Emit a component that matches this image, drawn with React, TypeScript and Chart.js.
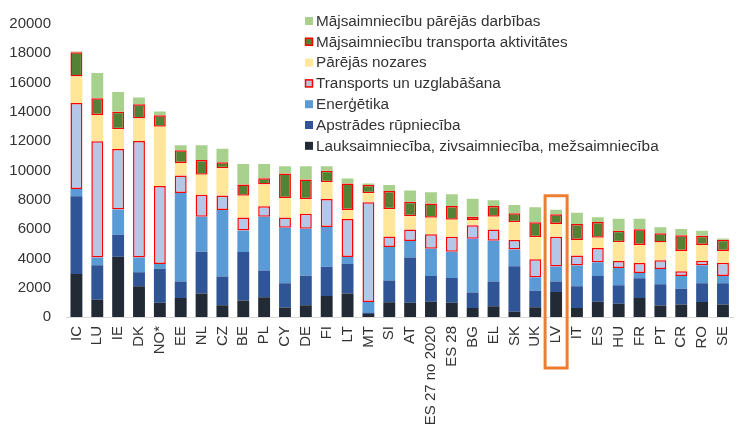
import React, { useEffect, useRef } from "react";
import { Chart, registerables } from "chart.js";

Chart.register(...registerables);

const categories = ["IC", "LU", "IE", "DK", "NO*", "EE", "NL", "CZ", "BE", "PL", "CY", "DE", "FI", "LT", "MT", "SI", "AT", "ES 27 no 2020", "ES 28", "BG", "EL", "SK", "UK", "LV", "IT", "ES", "HU", "FR", "PT", "CR", "RO", "SE"];

const agriculture = [2930, 1170, 4120, 2100, 980, 1300, 1600, 800, 1130, 1340, 650, 800, 1430, 1600, 200, 1000, 980, 1040, 980, 610, 740, 350, 670, 1710, 610, 1040, 910, 1300, 780, 850, 1020, 850];
const manufacturing = [5320, 2370, 1500, 960, 2320, 1130, 2850, 1960, 3300, 1830, 1650, 2020, 2000, 2020, 100, 1500, 3080, 1760, 1690, 1060, 1690, 3120, 1130, 720, 1490, 1760, 1260, 1350, 1450, 1080, 1280, 1450];
const energy = [480, 520, 1720, 1000, 320, 6040, 2390, 4540, 1470, 3670, 3800, 3210, 2710, 480, 720, 2280, 1130, 1860, 1780, 3670, 2780, 1130, 910, 1020, 1420, 930, 1170, 350, 1050, 870, 1240, 500];
const transport = [5880, 7930, 4130, 7950, 5320, 1190, 1500, 990, 900, 720, 700, 1010, 1910, 2590, 6820, 710, 780, 980, 1020, 930, 760, 650, 1240, 2020, 670, 980, 480, 690, 600, 330, 300, 910];
const otherSectors = [1810, 1800, 1340, 1540, 4040, 850, 1370, 1870, 1470, 1490, 1320, 990, 1140, 610, 610, 1870, 910, 1140, 1170, 350, 870, 1220, 1500, 870, 1060, 700, 1280, 1220, 1200, 1380, 1070, 790];
const hhTransport = [1650, 1150, 1200, 980, 790, 870, 1010, 410, 780, 420, 1670, 1350, 800, 1820, 560, 1240, 980, 970, 940, 220, 740, 610, 1020, 670, 1090, 1080, 780, 1080, 630, 1070, 630, 780];
const hhOther = [60, 1710, 1340, 450, 260, 350, 1010, 920, 1390, 970, 500, 910, 300, 330, 110, 410, 780, 760, 800, 1240, 390, 560, 1020, 310, 780, 320, 830, 720, 410, 430, 340, 80];

const yTicks = [0, 2000, 4000, 6000, 8000, 10000, 12000, 14000, 16000, 18000, 20000];
const highlighted = "LV";

const FONT = "'Liberation Sans', Arial, sans-serif";
const TEXT = "#333333";

const seriesDefs = [
  { label: "Lauksaimniecība, zivsaimniecība, mežsaimniecība", data: agriculture, color: "#222A35", red: false },
  { label: "Apstrādes rūpniecība", data: manufacturing, color: "#2F5597", red: false },
  { label: "Enerģētika", data: energy, color: "#5B9BD5", red: false },
  { label: "Transports un uzglabāšana", data: transport, color: "#B4C7E7", red: true },
  { label: "Pārējās nozares", data: otherSectors, color: "#FFE699", red: false },
  { label: "Mājsaimniecību transporta aktivitātes", data: hhTransport, color: "#548235", red: true },
  { label: "Mājsaimniecību pārējās darbības", data: hhOther, color: "#A9D18E", red: false },
];

const legendPlugin = {
  id: "vlegend",
  afterDraw(chart: any) {
    const ctx = chart.ctx;
    const ds = chart.data.datasets;
    const x0 = 305;
    const y0 = 21;
    const step = 20.8;
    ctx.save();
    ctx.font = `15.3px ${FONT}`;
    ctx.textBaseline = "middle";
    ctx.textAlign = "left";
    for (let i = ds.length - 1, row = 0; i >= 0; i--, row++) {
      const d = ds[i];
      const cy = y0 + row * step;
      ctx.fillStyle = d.backgroundColor;
      ctx.fillRect(x0, cy - 4, 8, 8);
      if (d.borderWidth > 0) {
        ctx.strokeStyle = "#FF0000";
        ctx.lineWidth = 1.5;
        ctx.strokeRect(x0 + 0.5, cy - 3.5, 7, 7);
      }
      ctx.fillStyle = TEXT;
      ctx.fillText(d.label, x0 + 11, cy + 0.5);
    }
    ctx.restore();
  },
};

const boxPlugin = {
  id: "hlbox",
  afterDatasetsDraw(chart: any) {
    const idx = categories.indexOf(highlighted);
    if (idx < 0) return;
    const xs = chart.scales.x;
    const ys = chart.scales.y;
    let total = 0;
    seriesDefs.forEach((s) => (total += s.data[idx]));
    const cx = xs.getPixelForValue(idx);
    const top = ys.getPixelForValue(total) - 14;
    const bottom = chart.chartArea.bottom + 51;
    const ctx = chart.ctx;
    ctx.save();
    ctx.strokeStyle = "#ED7D31";
    ctx.lineWidth = 3;
    ctx.strokeRect(cx - 11, top, 22, bottom - top);
    ctx.restore();
  },
};

export default function App() {
  const ref = useRef<HTMLCanvasElement>(null);
  useEffect(() => {
    if (!ref.current) return;
    const chart = new Chart(ref.current, {
      type: "bar",
      data: {
        labels: categories,
        datasets: seriesDefs.map((s) => ({
          label: s.label,
          data: s.data,
          backgroundColor: s.color,
          borderColor: s.red ? "#FF0000" : s.color,
          borderWidth: s.red ? 1.5 : 0,
          borderSkipped: false,
          categoryPercentage: 1,
          barPercentage: 0.57,
        })),
      },
      options: {
        responsive: false,
        animation: false,
        devicePixelRatio: 1,
        layout: { padding: { top: 10, right: 3, left: 0, bottom: 0 } },
        plugins: { legend: { display: false }, tooltip: { enabled: false } },
        scales: {
          x: {
            stacked: true,
            grid: { display: false, drawTicks: false },
            border: { display: true, color: "#D9D9D9", width: 1 },
            ticks: {
              autoSkip: false,
              minRotation: 90,
              maxRotation: 90,
              padding: 9,
              color: TEXT,
              font: { family: FONT, size: 15 },
            },
            afterFit: (s: any) => {
              s.height = 119;
            },
          },
          y: {
            stacked: true,
            min: 0,
            max: 20000,
            grid: { display: false, drawTicks: false },
            border: { display: false },
            afterBuildTicks: (s: any) => {
              s.ticks = yTicks.map((v) => ({ value: v }));
            },
            ticks: {
              padding: 15,
              color: TEXT,
              font: { family: FONT, size: 15 },
              callback: (v: any) => String(v),
            },
            afterFit: (s: any) => {
              s.width = 66;
            },
          },
        },
      },
      plugins: [legendPlugin, boxPlugin],
    });
    return () => chart.destroy();
  }, []);
  return (
    <div style={{ position: "fixed", left: 0, top: 0, width: 750, height: 436, background: "#fff" }}>
      <canvas ref={ref} width={750} height={436} />
    </div>
  );
}
